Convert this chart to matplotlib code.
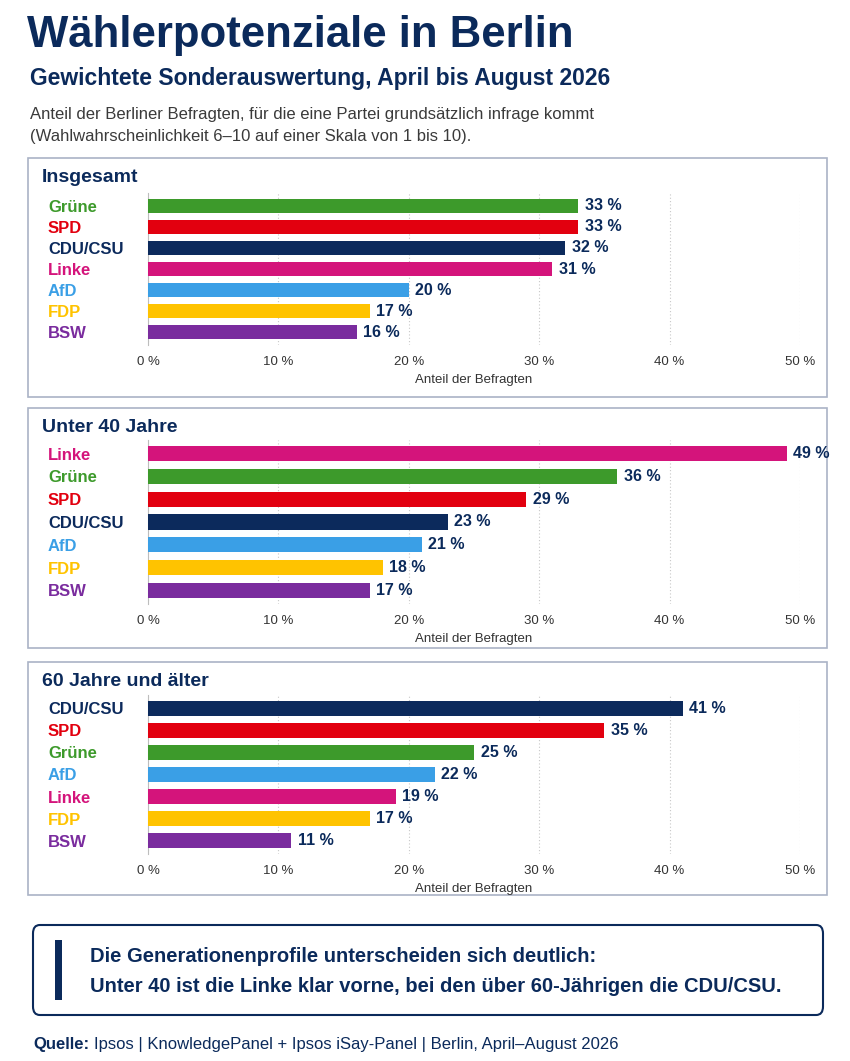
import matplotlib
matplotlib.use('Agg')
import matplotlib.pyplot as plt
from matplotlib.patches import FancyBboxPatch, Rectangle

plt.rcParams['font.family'] = ['Liberation Sans', 'DejaVu Sans']

# Daten
parteien_gesamt = ['Grüne', 'SPD', 'CDU/CSU', 'Linke', 'AfD', 'FDP', 'BSW']
werte_gesamt = [33, 33, 32, 31, 20, 17, 16]

parteien_u40 = ['Linke', 'Grüne', 'SPD', 'CDU/CSU', 'AfD', 'FDP', 'BSW']
werte_u40 = [49, 36, 29, 23, 21, 18, 17]

parteien_60 = ['CDU/CSU', 'SPD', 'Grüne', 'AfD', 'Linke', 'FDP', 'BSW']
werte_60 = [41, 35, 25, 22, 19, 17, 11]

ticks = [0, 10, 20, 30, 40, 50]
tick_labels = ['0 %', '10 %', '20 %', '30 %', '40 %', '50 %']

farben = {
    'Grüne': '#3d9a2b',
    'SPD': '#e2000f',
    'CDU/CSU': '#0c2a5c',
    'Linke': '#d4147b',
    'AfD': '#3a9fe6',
    'FDP': '#ffc300',
    'BSW': '#7a2c9e',
}
navy = '#0b2a5b'

W, H = 850, 1061
fig = plt.figure(figsize=(W / 100, H / 100), dpi=100)
fig.patch.set_facecolor('white')


def fx(px):
    return px / W


def fy(py):
    return 1 - py / H


# Titel
fig.text(fx(27), fy(36), 'Wählerpotenziale in Berlin', fontsize=31.5, fontweight='bold',
         color=navy, va='center', ha='left')
fig.text(fx(30), fy(79), 'Gewichtete Sonderauswertung, April bis August 2026', fontsize=16.5,
         fontweight='bold', color=navy, va='center', ha='left')
fig.text(fx(30), fy(114), 'Anteil der Berliner Befragten, für die eine Partei grundsätzlich infrage kommt',
         fontsize=12, color='#3a3a3a', va='center', ha='left')
fig.text(fx(30), fy(136), '(Wahlwahrscheinlichkeit 6–10 auf einer Skala von 1 bis 10).',
         fontsize=12, color='#3a3a3a', va='center', ha='left')

# Panels: (titel, parteien, werte, box_oben, box_unten, axes_oben, axes_unten)
panels = [
    ('Insgesamt', parteien_gesamt, werte_gesamt, 158, 397, 193, 345),
    ('Unter 40 Jahre', parteien_u40, werte_u40, 408, 648, 440, 604),
    ('60 Jahre und älter', parteien_60, werte_60, 662, 895, 695, 854),
]

for titel, parteien, werte, b_top, b_bot, a_top, a_bot in panels:
    box = Rectangle((fx(28), fy(b_bot)), fx(827) - fx(28), fy(b_top) - fy(b_bot),
                    transform=fig.transFigure, facecolor='none', edgecolor='#aab3c6',
                    linewidth=1.2, zorder=-1)
    fig.patches.append(box)
    fig.text(fx(42), fy(b_top + 19), titel, fontsize=14, fontweight='bold', color=navy,
             va='center', ha='left')

    ax = fig.add_axes([fx(148), fy(a_bot), fx(800) - fx(148), fy(a_top) - fy(a_bot)])
    ax.set_facecolor('none')
    y = list(range(len(parteien)))
    ax.barh(y, werte, height=0.66, color=[farben[p] for p in parteien], zorder=3)
    for yi, w in zip(y, werte):
        ax.text(w + 0.5, yi, f'{w} %', va='center', ha='left', fontsize=11.5,
                fontweight='bold', color=navy)
    ax.set_xlim(0, 50)
    ax.set_ylim(len(parteien) - 0.4, -0.6)
    ax.set_yticks(y)
    ax.set_yticklabels(parteien)
    for lbl, p in zip(ax.get_yticklabels(), parteien):
        lbl.set_color(farben[p])
        lbl.set_fontweight('bold')
        lbl.set_fontsize(12)
        lbl.set_horizontalalignment('left')
    ax.tick_params(axis='y', length=0, pad=72)
    ax.set_xticks(ticks)
    ax.set_xticklabels(tick_labels, fontsize=9.5, color='#333333')
    ax.tick_params(axis='x', length=0, pad=8)
    ax.set_xlabel('Anteil der Befragten', fontsize=9.5, color='#333333', labelpad=4)
    ax.grid(axis='x', linestyle=(0, (1, 2)), color='#c8c8c8', linewidth=0.8, zorder=0)
    for s in ['top', 'right', 'bottom']:
        ax.spines[s].set_visible(False)
    ax.spines['left'].set_color('#bdbdbd')
    ax.spines['left'].set_linewidth(0.8)

# Hinweisbox
hinweis = FancyBboxPatch((fx(33), fy(1015)), fx(823) - fx(33), fy(925) - fy(1015),
                         boxstyle='round,pad=0,rounding_size=0.008',
                         transform=fig.transFigure, facecolor='none', edgecolor=navy,
                         linewidth=1.5, zorder=-1)
fig.patches.append(hinweis)
fig.patches.append(Rectangle((fx(55), fy(1000)), fx(62) - fx(55), fy(940) - fy(1000),
                             transform=fig.transFigure, facecolor=navy, edgecolor='none'))
fig.text(fx(90), fy(956), 'Die Generationenprofile unterscheiden sich deutlich:', fontsize=14.5,
         fontweight='bold', color=navy, va='center', ha='left')
fig.text(fx(90), fy(986), 'Unter 40 ist die Linke klar vorne, bei den über 60-Jährigen die CDU/CSU.',
         fontsize=14.5, fontweight='bold', color=navy, va='center', ha='left')

# Quelle
t = fig.text(fx(33), fy(1044), 'Quelle:', fontsize=12, fontweight='bold', color=navy,
             va='center', ha='left')
fig.canvas.draw()
bb = t.get_window_extent()
fig.text((bb.x1 + 5) / W, fy(1044), 'Ipsos | KnowledgePanel + Ipsos iSay-Panel | Berlin, April–August 2026',
         fontsize=12, color=navy, va='center', ha='left')

plt.savefig('out.png', dpi=100, facecolor='white')
